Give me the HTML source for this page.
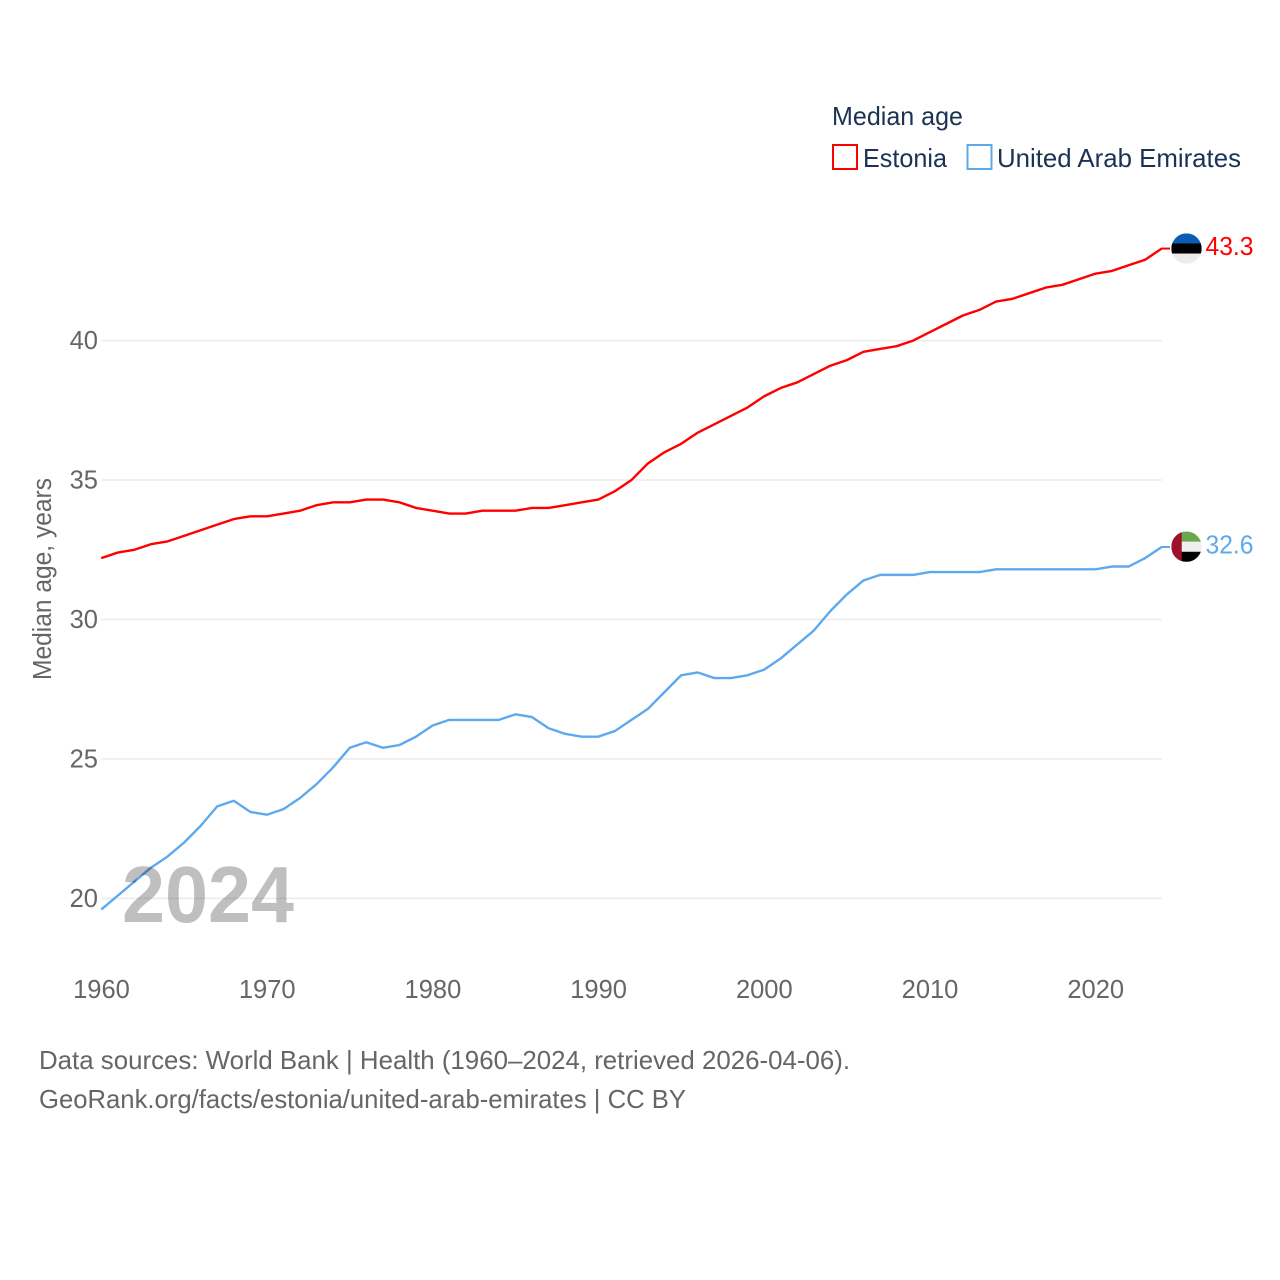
<!DOCTYPE html>
<html lang="en">
<head>
<meta charset="utf-8">
<title>Median age: Estonia and United Arab Emirates</title>
<style>
html,body{margin:0;padding:0;background:#fff;}
svg{display:block;font-family:"Liberation Sans",sans-serif;}
.tick{font-size:25.5px;fill:#666;}
.legend{font-size:26px;fill:#1a3354;}
.foot{font-size:26px;fill:#666;}
</style>
</head>
<body>
<svg id="chart" xmlns="http://www.w3.org/2000/svg" width="1280" height="1280" viewBox="0 0 1280 1280">
  <rect x="0" y="0" width="1280" height="1280" fill="#fff"/>
  <g id="grid"></g>
  <g id="yticks"></g>
  <g id="xticks"></g>
  <g id="series"></g>
  <g id="markers"></g>

  <text class="tick" font-size="25.5" transform="translate(51,680) rotate(-90)" textLength="202" lengthAdjust="spacingAndGlyphs">Median age, years</text>

  <text x="122" y="922" font-size="80" font-weight="700" fill="rgba(0,0,0,0.25)" textLength="172" lengthAdjust="spacingAndGlyphs">2024</text>

  <g>
    <text class="legend" x="832" y="125" textLength="131" lengthAdjust="spacingAndGlyphs">Median age</text>
    <rect x="833" y="145" width="24" height="24" fill="#fff" stroke="#ff0000" stroke-width="2"/>
    <text class="legend" x="863" y="167" textLength="84" lengthAdjust="spacingAndGlyphs">Estonia</text>
    <rect x="967.500" y="145" width="24" height="24" fill="#fff" stroke="#5ea9ee" stroke-width="2"/>
    <text class="legend" x="997" y="167" textLength="244" lengthAdjust="spacingAndGlyphs">United Arab Emirates</text>
  </g>

  <g>
    <text class="foot" x="39" y="1069" textLength="811" lengthAdjust="spacingAndGlyphs">Data sources: World Bank | Health (1960–2024, retrieved 2026-04-06).</text>
    <text class="foot" x="39" y="1108" textLength="647" lengthAdjust="spacingAndGlyphs">GeoRank.org/facts/estonia/united-arab-emirates | CC BY</text>
  </g>
</svg>
<script>
const years = [1960,1961,1962,1963,1964,1965,1966,1967,1968,1969,1970,1971,1972,1973,1974,1975,1976,1977,1978,1979,1980,1981,1982,1983,1984,1985,1986,1987,1988,1989,1990,1991,1992,1993,1994,1995,1996,1997,1998,1999,2000,2001,2002,2003,2004,2005,2006,2007,2008,2009,2010,2011,2012,2013,2014,2015,2016,2017,2018,2019,2020,2021,2022,2023,2024];
const estoniaValues = [32.2,32.4,32.5,32.7,32.8,33.0,33.2,33.4,33.6,33.7,33.7,33.8,33.9,34.1,34.2,34.2,34.3,34.3,34.2,34.0,33.9,33.8,33.8,33.9,33.9,33.9,34.0,34.0,34.1,34.2,34.3,34.6,35.0,35.6,36.0,36.3,36.7,37.0,37.3,37.6,38.0,38.3,38.5,38.8,39.1,39.3,39.6,39.7,39.8,40.0,40.3,40.6,40.9,41.1,41.4,41.5,41.7,41.9,42.0,42.2,42.4,42.5,42.7,42.9,43.3];
const uaeValues = [19.6,20.1,20.6,21.1,21.5,22.0,22.6,23.3,23.5,23.1,23.0,23.2,23.6,24.1,24.7,25.4,25.6,25.4,25.5,25.8,26.2,26.4,26.4,26.4,26.4,26.6,26.5,26.1,25.9,25.8,25.8,26.0,26.4,26.8,27.4,28.0,28.1,27.9,27.9,28.0,28.2,28.6,29.1,29.6,30.3,30.9,31.4,31.6,31.6,31.6,31.7,31.7,31.7,31.7,31.8,31.8,31.8,31.8,31.8,31.8,31.8,31.9,31.9,32.2,32.6];
const yTickValues = [20,25,30,35,40];
const xTickValues = [1960,1970,1980,1990,2000,2010,2020];

const NS = 'http://www.w3.org/2000/svg';
function xScale(year){ return 101.2 + (year - 1960) * (1161.7 - 101.2) / 64; }
function yScale(v){ return 898.4 - (v - 20) * (898.4 - 340.6) / 20; }
function make(tag, attrs, parent){
  const el = document.createElementNS(NS, tag);
  for (const k in attrs) el.setAttribute(k, attrs[k]);
  parent.appendChild(el);
  return el;
}

const gridG = document.getElementById('grid');
const yG = document.getElementById('yticks');
yTickValues.forEach(function(v){
  const line = make('line', {x1:101.5, x2:1162, y1:yScale(v), y2:yScale(v), stroke:'#ebebeb', 'stroke-width':1.5}, gridG);
  
  
  const t = make('text', {x:98, y:yScale(v)+8.5, 'text-anchor':'end', class:'tick'}, yG);
  t.textContent = String(v);
  
  
});

const xG = document.getElementById('xticks');
xTickValues.forEach(function(y){
  const t = make('text', {x:xScale(y)+0.3, y:998, 'text-anchor':'middle', class:'tick'}, xG);
  t.textContent = String(y);
  
  
});

const seriesG = document.getElementById('series');
const markersG = document.getElementById('markers');
function linePath(values){
  return values.map(function(v,i){ return (i ? 'L' : 'M') + xScale(years[i]).toFixed(2) + ' ' + yScale(v).toFixed(2); }).join(' ');
}

const estoniaLine = make('path', {d:linePath(estoniaValues), fill:'none', stroke:'#ff0000', 'stroke-width':2.4, 'stroke-linejoin':'round'}, seriesG);


const uaeLine = make('path', {d:linePath(uaeValues), fill:'none', stroke:'#5ea9ee', 'stroke-width':2.4, 'stroke-linejoin':'round'}, seriesG);



const flagX = 1186.5, flagR = 15.2;
const clipDefs = make('defs', {}, markersG);

// Estonia end marker
const estLast = estoniaValues[estoniaValues.length - 1];
const estY = yScale(estLast);
const estLead = make('line', {x1:1161, x2:1170, y1:estY, y2:estY, stroke:'#ff0000', 'stroke-width':2}, markersG);


const estClip = make('clipPath', {id:'clip-est'}, clipDefs);
make('circle', {cx:flagX, cy:estY, r:flagR}, estClip);
const estFlag = make('g', {'clip-path':'url(#clip-est)'}, markersG);


make('rect', {x:flagX-flagR, y:estY-flagR, width:2*flagR, height:flagR*2/3+0.6, fill:'#0a5cb4'}, estFlag);
make('rect', {x:flagX-flagR, y:estY-flagR+flagR*2/3, width:2*flagR, height:flagR*2/3, fill:'#000'}, estFlag);
make('rect', {x:flagX-flagR, y:estY-flagR+flagR*4/3, width:2*flagR, height:flagR*2/3, fill:'#ececec'}, estFlag);
const estLabel = make('text', {x:1205.5, y:estY+6.5, 'font-size':25.5, fill:'#ff0000', textLength:48, lengthAdjust:'spacingAndGlyphs'}, markersG);
estLabel.textContent = estLast.toFixed(1);



// UAE end marker
const uaeLast = uaeValues[uaeValues.length - 1];
const uaeY = yScale(uaeLast);
const uaeLead = make('line', {x1:1161, x2:1170, y1:uaeY, y2:uaeY, stroke:'#5ea9ee', 'stroke-width':2}, markersG);


const uaeClip = make('clipPath', {id:'clip-uae'}, clipDefs);
make('circle', {cx:flagX, cy:uaeY-0.3, r:flagR}, uaeClip);
const uaeFlag = make('g', {'clip-path':'url(#clip-uae)'}, markersG);


const uaeFlagTop = uaeY - 0.3 - flagR;
make('rect', {x:flagX-flagR, y:uaeFlagTop, width:2*flagR, height:flagR*2/3+0.6, fill:'#6aa84f'}, uaeFlag);
make('rect', {x:flagX-flagR, y:uaeFlagTop+flagR*2/3, width:2*flagR, height:flagR*2/3, fill:'#efefef'}, uaeFlag);
make('rect', {x:flagX-flagR, y:uaeFlagTop+flagR*4/3, width:2*flagR, height:flagR*2/3, fill:'#000'}, uaeFlag);
make('rect', {x:flagX-flagR, y:uaeFlagTop, width:flagR*2/3+0.3, height:2*flagR, fill:'#a0102a'}, uaeFlag);
const uaeLabel = make('text', {x:1205.5, y:uaeY+6.5, 'font-size':25.5, fill:'#5ea9ee', textLength:48, lengthAdjust:'spacingAndGlyphs'}, markersG);
uaeLabel.textContent = uaeLast.toFixed(1);


</script>
</body>
</html>
